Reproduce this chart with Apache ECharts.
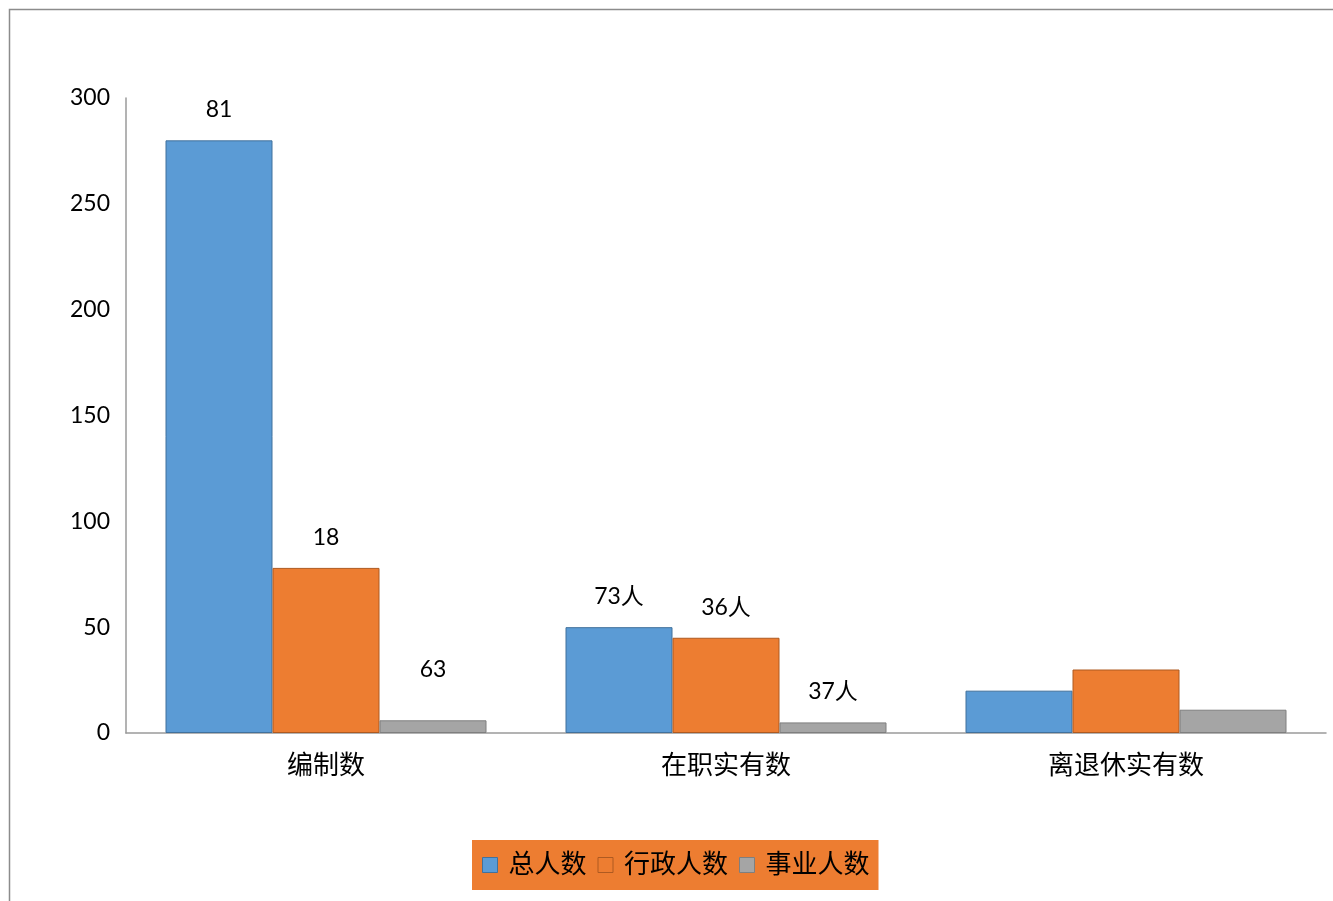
<!DOCTYPE html>
<html><head><meta charset="utf-8">
<script src="https://cdn.jsdelivr.net/npm/echarts@6/dist/echarts.min.js"></script>
<style>html,body{margin:0;padding:0;background:#fff}#c{width:1333px;height:901px}</style>
</head><body><div id="c"></div>
<script>
const categories = ['编制数', '在职实有数', '离退休实有数'];
const seriesNames = ['总人数', '行政人数', '事业人数'];
const totalValues = [280, 50, 20];
const adminValues = [78, 45, 30];
const instValues = [6, 5, 11];
const totalLabels = ['81', '73人', ''];
const adminLabels = ['18', '36人', ''];
const instLabels = ['63', '37人', ''];
const yTicks = [0, 50, 100, 150, 200, 250, 300];

const FONT = 'Lato, "Noto Sans CJK SC", sans-serif';
const colors = ['#5B9BD5', '#ED7D31', '#A5A5A5'];
const borders = ['#41719C', '#AE5A21', '#7F7F7F'];
const labelOffsets = [[0, 0, 0], [0, 0, 0], [-20, 0, 0]];

function mkSeries(idx, values, labels) {
  return {
    name: seriesNames[idx], type: 'bar', barWidth: 107, barGap: '0%',
    itemStyle: { color: colors[idx], borderColor: borders[idx], borderWidth: 1 },
    data: values.map((v, i) => ({
      value: v,
      label: { show: labels[i] !== '', position: 'top', distance: 19, offset: [0, labelOffsets[idx][i]],
        formatter: () => labels[i], fontSize: 23, color: '#000', fontFamily: FONT }
    }))
  };
}

const chart = echarts.init(document.getElementById('c'), null, { renderer: 'canvas' });
chart.setOption({
  animation: false,
  backgroundColor: '#fff',
  graphic: [{ type: 'rect', shape: { x: 9.5, y: 9.5, width: 1400, height: 1000 }, style: { fill: null, stroke: '#8c8c8c', lineWidth: 1.5 }, silent: true }],
  grid: { left: 126, right: 7, top: 98, bottom: 168 },
  legend: {
    data: seriesNames.map((n, i) => ({ name: n, itemStyle: { color: colors[i], borderColor: borders[i], borderWidth: 1 } })),
    left: 472, top: 840, backgroundColor: '#ED7D31', padding: [12, 9, 12, 10],
    itemWidth: 15, itemHeight: 15, itemGap: 11, icon: 'rect',
    textStyle: { fontSize: 26, color: '#000', fontFamily: FONT, padding: [0, 0, 0, 6] }
  },
  xAxis: {
    type: 'category', data: categories,
    axisLine: { lineStyle: { color: '#9a9a9a', width: 1.5 } }, axisTick: { show: false },
    axisLabel: { fontSize: 26, color: '#000', margin: 20, fontFamily: FONT }
  },
  yAxis: {
    type: 'value', min: yTicks[0], max: yTicks[yTicks.length - 1], interval: 50,
    axisLine: { show: true, lineStyle: { color: '#9a9a9a', width: 1.5 } }, axisTick: { show: false },
    splitLine: { show: false },
    axisLabel: { fontSize: 23, color: '#000', margin: 16, fontFamily: FONT }
  },
  series: [mkSeries(0, totalValues, totalLabels), mkSeries(1, adminValues, adminLabels), mkSeries(2, instValues, instLabels)]
});
</script></body></html>
